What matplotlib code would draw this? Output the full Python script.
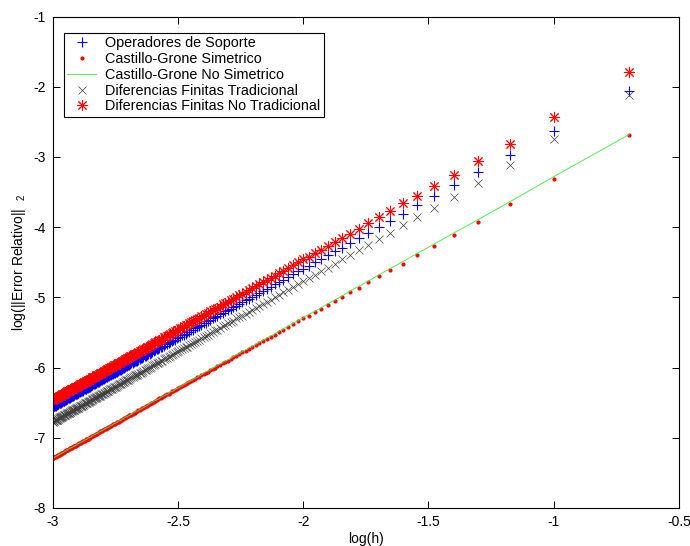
import numpy as np
import matplotlib
matplotlib.use('Agg')
import matplotlib.pyplot as plt

plt.rcParams['font.family'] = ['Liberation Sans', 'DejaVu Sans']
plt.rcParams['axes.unicode_minus'] = False
plt.rcParams['mathtext.fontset'] = 'custom'
plt.rcParams['mathtext.rm'] = 'Liberation Sans'

# grid sizes, h = 1/N  (N = 5, 10, ..., 1000)
n_nodes = np.arange(5, 1001, 5)
log_h = np.log10(1.0 / n_nodes)

labels = ['Operadores de Soporte', 'Castillo-Grone Simetrico',
          'Castillo-Grone No Simetrico', 'Diferencias Finitas Tradicional',
          'Diferencias Finitas No Tradicional']

# log(||Error Relativo||_2), one value per N
op_soporte = [
    -2.06, -2.63, -2.97, -3.21, -3.40, -3.56, -3.69, -3.81, -3.91, -4.00,
    -4.08, -4.15, -4.22, -4.29, -4.34, -4.40, -4.45, -4.50, -4.55, -4.59,
    -4.63, -4.67, -4.71, -4.75, -4.78, -4.81, -4.85, -4.88, -4.91, -4.94,
    -4.97, -4.99, -5.02, -5.04, -5.07, -5.09, -5.12, -5.14, -5.16, -5.18,
    -5.20, -5.22, -5.24, -5.26, -5.28, -5.30, -5.32, -5.34, -5.36, -5.37,
    -5.39, -5.41, -5.42, -5.44, -5.46, -5.47, -5.49, -5.50, -5.52, -5.53,
    -5.54, -5.56, -5.57, -5.58, -5.60, -5.61, -5.62, -5.64, -5.65, -5.66,
    -5.67, -5.69, -5.70, -5.71, -5.72, -5.73, -5.74, -5.75, -5.76, -5.78,
    -5.79, -5.80, -5.81, -5.82, -5.83, -5.84, -5.85, -5.86, -5.87, -5.88,
    -5.89, -5.90, -5.90, -5.91, -5.92, -5.93, -5.94, -5.95, -5.96, -5.97,
    -5.98, -5.98, -5.99, -6.00, -6.01, -6.02, -6.03, -6.03, -6.04, -6.05,
    -6.06, -6.06, -6.07, -6.08, -6.09, -6.09, -6.10, -6.11, -6.12, -6.12,
    -6.13, -6.14, -6.14, -6.15, -6.16, -6.16, -6.17, -6.18, -6.18, -6.19,
    -6.20, -6.20, -6.21, -6.22, -6.22, -6.23, -6.24, -6.24, -6.25, -6.25,
    -6.26, -6.27, -6.27, -6.28, -6.29, -6.29, -6.30, -6.30, -6.31, -6.31,
    -6.32, -6.33, -6.33, -6.34, -6.34, -6.35, -6.35, -6.36, -6.36, -6.37,
    -6.37, -6.38, -6.38, -6.39, -6.39, -6.40, -6.40, -6.41, -6.42, -6.42,
    -6.43, -6.43, -6.44, -6.44, -6.45, -6.45, -6.46, -6.46, -6.46, -6.47,
    -6.47, -6.48, -6.48, -6.49, -6.49, -6.50, -6.50, -6.51, -6.51, -6.52,
    -6.52, -6.52, -6.53, -6.53, -6.54, -6.54, -6.55, -6.55, -6.56, -6.56,
]

cg_simetrico = [
    -2.69, -3.32, -3.67, -3.92, -4.11, -4.27, -4.40, -4.52, -4.61, -4.70,
    -4.78, -4.86, -4.93, -4.99, -5.05, -5.11, -5.16, -5.21, -5.26, -5.30,
    -5.34, -5.38, -5.42, -5.46, -5.49, -5.53, -5.56, -5.59, -5.62, -5.65,
    -5.68, -5.71, -5.73, -5.76, -5.78, -5.81, -5.83, -5.85, -5.88, -5.90,
    -5.92, -5.94, -5.96, -5.98, -6.00, -6.02, -6.04, -6.06, -6.07, -6.09,
    -6.11, -6.13, -6.14, -6.16, -6.17, -6.19, -6.20, -6.22, -6.24, -6.25,
    -6.26, -6.28, -6.29, -6.30, -6.32, -6.33, -6.34, -6.36, -6.37, -6.38,
    -6.39, -6.41, -6.42, -6.43, -6.44, -6.45, -6.46, -6.48, -6.49, -6.50,
    -6.51, -6.52, -6.53, -6.54, -6.55, -6.56, -6.57, -6.58, -6.59, -6.60,
    -6.61, -6.62, -6.63, -6.64, -6.65, -6.66, -6.67, -6.67, -6.68, -6.69,
    -6.70, -6.71, -6.72, -6.72, -6.73, -6.74, -6.75, -6.76, -6.77, -6.77,
    -6.78, -6.79, -6.80, -6.80, -6.81, -6.82, -6.83, -6.83, -6.84, -6.85,
    -6.86, -6.86, -6.87, -6.88, -6.88, -6.89, -6.90, -6.90, -6.91, -6.92,
    -6.92, -6.93, -6.94, -6.94, -6.95, -6.96, -6.96, -6.97, -6.98, -6.98,
    -6.99, -6.99, -7.00, -7.01, -7.01, -7.02, -7.02, -7.03, -7.04, -7.04,
    -7.05, -7.05, -7.06, -7.06, -7.07, -7.08, -7.08, -7.09, -7.09, -7.10,
    -7.10, -7.11, -7.11, -7.12, -7.12, -7.13, -7.13, -7.14, -7.14, -7.15,
    -7.15, -7.16, -7.16, -7.17, -7.17, -7.18, -7.18, -7.19, -7.19, -7.20,
    -7.20, -7.21, -7.21, -7.22, -7.22, -7.23, -7.23, -7.24, -7.24, -7.25,
    -7.25, -7.26, -7.26, -7.26, -7.27, -7.27, -7.28, -7.28, -7.29, -7.29,
]

cg_no_simetrico = [
    -2.68, -3.28, -3.64, -3.89, -4.08, -4.24, -4.37, -4.49, -4.59, -4.68,
    -4.77, -4.84, -4.91, -4.98, -5.04, -5.09, -5.15, -5.20, -5.24, -5.29,
    -5.33, -5.37, -5.41, -5.45, -5.48, -5.52, -5.55, -5.58, -5.61, -5.64,
    -5.67, -5.70, -5.72, -5.75, -5.77, -5.80, -5.82, -5.84, -5.87, -5.89,
    -5.91, -5.93, -5.95, -5.97, -5.99, -6.01, -6.03, -6.05, -6.06, -6.08,
    -6.10, -6.12, -6.14, -6.15, -6.17, -6.18, -6.20, -6.21, -6.23, -6.24,
    -6.26, -6.27, -6.29, -6.30, -6.31, -6.33, -6.34, -6.35, -6.37, -6.38,
    -6.39, -6.40, -6.41, -6.42, -6.44, -6.45, -6.46, -6.47, -6.48, -6.49,
    -6.50, -6.51, -6.52, -6.54, -6.55, -6.56, -6.57, -6.58, -6.59, -6.60,
    -6.61, -6.62, -6.62, -6.63, -6.64, -6.65, -6.66, -6.67, -6.68, -6.69,
    -6.70, -6.70, -6.71, -6.72, -6.73, -6.74, -6.75, -6.75, -6.76, -6.77,
    -6.78, -6.79, -6.79, -6.80, -6.81, -6.82, -6.82, -6.83, -6.84, -6.85,
    -6.85, -6.86, -6.87, -6.87, -6.88, -6.89, -6.90, -6.90, -6.91, -6.91,
    -6.92, -6.93, -6.94, -6.94, -6.95, -6.95, -6.96, -6.97, -6.97, -6.98,
    -6.99, -6.99, -7.00, -7.00, -7.01, -7.02, -7.02, -7.03, -7.03, -7.04,
    -7.05, -7.05, -7.06, -7.06, -7.07, -7.07, -7.08, -7.08, -7.09, -7.10,
    -7.10, -7.11, -7.11, -7.12, -7.12, -7.13, -7.13, -7.14, -7.14, -7.15,
    -7.15, -7.16, -7.16, -7.17, -7.17, -7.18, -7.18, -7.19, -7.19, -7.20,
    -7.20, -7.21, -7.21, -7.22, -7.22, -7.23, -7.23, -7.24, -7.24, -7.25,
    -7.25, -7.26, -7.26, -7.26, -7.27, -7.27, -7.28, -7.28, -7.29, -7.29,
]

df_tradicional = [
    -2.12, -2.75, -3.12, -3.37, -3.57, -3.72, -3.86, -3.97, -4.08, -4.17,
    -4.25, -4.33, -4.40, -4.46, -4.52, -4.58, -4.63, -4.68, -4.73, -4.77,
    -4.81, -4.85, -4.89, -4.93, -4.96, -5.00, -5.03, -5.06, -5.09, -5.12,
    -5.15, -5.18, -5.21, -5.23, -5.26, -5.28, -5.30, -5.33, -5.35, -5.37,
    -5.39, -5.41, -5.44, -5.46, -5.47, -5.49, -5.51, -5.53, -5.55, -5.57,
    -5.58, -5.60, -5.62, -5.63, -5.65, -5.66, -5.68, -5.70, -5.71, -5.72,
    -5.74, -5.75, -5.77, -5.78, -5.79, -5.81, -5.82, -5.83, -5.85, -5.86,
    -5.87, -5.88, -5.90, -5.91, -5.92, -5.93, -5.94, -5.95, -5.96, -5.97,
    -5.99, -6.00, -6.01, -6.02, -6.03, -6.04, -6.05, -6.06, -6.07, -6.08,
    -6.09, -6.10, -6.11, -6.11, -6.12, -6.13, -6.14, -6.15, -6.16, -6.17,
    -6.18, -6.18, -6.19, -6.20, -6.21, -6.22, -6.23, -6.23, -6.24, -6.25,
    -6.26, -6.27, -6.27, -6.28, -6.29, -6.30, -6.30, -6.31, -6.32, -6.33,
    -6.33, -6.34, -6.35, -6.36, -6.36, -6.37, -6.38, -6.38, -6.39, -6.40,
    -6.40, -6.41, -6.42, -6.42, -6.43, -6.43, -6.44, -6.45, -6.45, -6.46,
    -6.47, -6.47, -6.48, -6.49, -6.49, -6.50, -6.50, -6.51, -6.51, -6.52,
    -6.53, -6.53, -6.54, -6.54, -6.55, -6.55, -6.56, -6.57, -6.57, -6.58,
    -6.58, -6.59, -6.59, -6.60, -6.60, -6.61, -6.61, -6.62, -6.62, -6.63,
    -6.63, -6.64, -6.64, -6.65, -6.65, -6.66, -6.66, -6.67, -6.67, -6.68,
    -6.68, -6.69, -6.69, -6.70, -6.70, -6.71, -6.71, -6.72, -6.72, -6.73,
    -6.73, -6.74, -6.74, -6.74, -6.75, -6.75, -6.76, -6.76, -6.77, -6.77,
]

df_no_tradicional = [
    -1.79, -2.43, -2.81, -3.06, -3.26, -3.41, -3.55, -3.66, -3.77, -3.86,
    -3.94, -4.02, -4.09, -4.15, -4.21, -4.27, -4.32, -4.37, -4.42, -4.46,
    -4.50, -4.54, -4.58, -4.62, -4.65, -4.69, -4.72, -4.75, -4.78, -4.81,
    -4.84, -4.87, -4.90, -4.92, -4.95, -4.97, -4.99, -5.02, -5.04, -5.06,
    -5.08, -5.10, -5.13, -5.15, -5.16, -5.18, -5.20, -5.22, -5.24, -5.26,
    -5.27, -5.29, -5.31, -5.32, -5.34, -5.35, -5.37, -5.39, -5.40, -5.41,
    -5.43, -5.44, -5.46, -5.47, -5.48, -5.50, -5.51, -5.52, -5.54, -5.55,
    -5.56, -5.57, -5.59, -5.60, -5.61, -5.62, -5.63, -5.64, -5.65, -5.66,
    -5.68, -5.69, -5.70, -5.71, -5.72, -5.73, -5.74, -5.75, -5.76, -5.77,
    -5.78, -5.79, -5.80, -5.80, -5.81, -5.82, -5.83, -5.84, -5.85, -5.86,
    -5.87, -5.88, -5.88, -5.89, -5.90, -5.91, -5.92, -5.93, -5.93, -5.94,
    -5.95, -5.96, -5.96, -5.97, -5.98, -5.99, -5.99, -6.00, -6.01, -6.02,
    -6.02, -6.03, -6.04, -6.05, -6.05, -6.06, -6.07, -6.07, -6.08, -6.09,
    -6.09, -6.10, -6.11, -6.11, -6.12, -6.13, -6.13, -6.14, -6.14, -6.15,
    -6.16, -6.16, -6.17, -6.18, -6.18, -6.19, -6.19, -6.20, -6.20, -6.21,
    -6.22, -6.22, -6.23, -6.23, -6.24, -6.24, -6.25, -6.26, -6.26, -6.27,
    -6.27, -6.28, -6.28, -6.29, -6.29, -6.30, -6.30, -6.31, -6.31, -6.32,
    -6.32, -6.33, -6.33, -6.34, -6.34, -6.35, -6.35, -6.36, -6.36, -6.37,
    -6.37, -6.38, -6.38, -6.39, -6.39, -6.40, -6.40, -6.41, -6.41, -6.42,
    -6.42, -6.43, -6.43, -6.43, -6.44, -6.44, -6.45, -6.45, -6.46, -6.46,
]

fig = plt.figure(figsize=(6.9, 5.46), dpi=100)
ax = fig.add_axes([0.0765, 0.0696, 0.9075, 0.9])

ax.plot(log_h, op_soporte, linestyle='none', marker='+', color='b',
        markersize=7, markeredgewidth=0.8, label=labels[0])
ax.plot(log_h, cg_simetrico, linestyle='none', marker='.', color='r',
        markersize=4, label=labels[1])
ax.plot(log_h, cg_no_simetrico, '-', color=(0.3, 0.9, 0.3), linewidth=0.8,
        alpha=0.85, label=labels[2])
ax.plot(log_h, df_tradicional, linestyle='none', marker='x',
        color=(0.25, 0.25, 0.25), markersize=6, markeredgewidth=0.5,
        label=labels[3])
ax.plot(log_h, df_no_tradicional, linestyle='none', marker=(8, 2, 0),
        color='r', markersize=8, markeredgewidth=0.7, label=labels[4])

ax.set_xlim(-3, -0.5)
ax.set_ylim(-8, -1)
ax.set_xticks(np.arange(-3, -0.49, 0.5))
ax.set_xticklabels(['-3', '-2.5', '-2', '-1.5', '-1', '-0.5'])
ax.set_yticks(np.arange(-8, -0.9, 1))
ax.tick_params(direction='in', top=True, right=True, length=5, width=0.7,
               labelsize=10, pad=5)
for sp in ax.spines.values():
    sp.set_linewidth(0.8)

ax.set_xlabel('log(h)', fontsize=10, labelpad=2)
ax.set_ylabel('log(||Error Relativo||  ${}_{2}$', fontsize=10, labelpad=4)

leg = ax.legend(loc='upper left', bbox_to_anchor=(0.0176, 0.967),
                borderaxespad=0, fontsize=10.4, frameon=True, fancybox=False,
                edgecolor='black', framealpha=1, handlelength=2.0,
                handletextpad=0.6, labelspacing=0.12, borderpad=0.25)
leg.get_frame().set_linewidth(0.8)

fig.savefig('out.png', dpi=100)
